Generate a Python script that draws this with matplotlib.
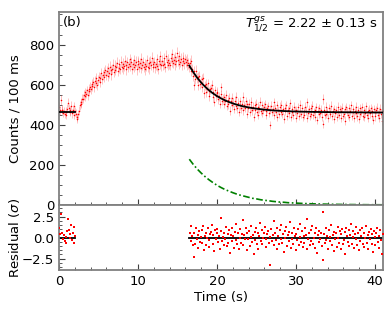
import matplotlib

matplotlib.use("Agg")

import matplotlib.pyplot as plt
import numpy as np
from matplotlib.ticker import AutoMinorLocator

# counts per 100 ms bin, bins start at 0 s (one row = 1 s)
BIN_WIDTH = 0.1
counts = [
    489, 472, 523, 474, 476, 459, 469, 454, 450, 465,
    480, 510, 482, 463, 472, 495, 457, 476, 491, 450,
    467, 455, 428, 438, 452, 470, 497, 512, 505, 528,
    530, 548, 541, 562, 555, 571, 549, 580, 566, 590,
    578, 603, 595, 612, 588, 620, 607, 631, 598, 624,
    640, 615, 633, 658, 629, 647, 662, 638, 671, 650,
    668, 645, 683, 659, 690, 672, 651, 679, 700, 664,
    695, 672, 688, 710, 669, 684, 702, 677, 715, 690,
    681, 705, 692, 720, 698, 676, 711, 689, 703, 728,
    694, 712, 680, 701, 723, 688, 699, 715, 676, 705,
    718, 690, 706, 684, 729, 697, 711, 688, 703, 676,
    695, 722, 688, 709, 681, 714, 698, 735, 690, 705,
    712, 686, 701, 727, 693, 680, 718, 704, 741, 696,
    720, 699, 731, 705, 688, 744, 712, 697, 725, 706,
    698, 733, 716, 752, 709, 724, 701, 738, 717, 760,
    722, 705, 741, 713, 729, 698, 735, 719, 706, 728,
    715, 698, 724, 706, 689, 707, 720, 668, 677, 642,
    600, 666, 630, 670, 632, 639, 597, 642, 605, 615,
    630, 589, 634, 559, 596, 602, 562, 580, 606, 566,
    544, 576, 581, 597, 539, 562, 514, 571, 542, 556,
    565, 528, 542, 505, 551, 586, 519, 529, 504, 537,
    519, 549, 495, 525, 501, 533, 470, 517, 533, 498,
    510, 478, 519, 538, 494, 482, 510, 466, 496, 518,
    481, 502, 539, 472, 497, 485, 516, 455, 501, 485,
    504, 463, 487, 515, 472, 489, 438, 497, 474, 504,
    464, 490, 450, 483, 515, 469, 497, 459, 476, 489,
    503, 470, 450, 483, 491, 460, 475, 401, 494, 463,
    477, 513, 450, 483, 463, 496, 440, 474, 455, 489,
    464, 500, 455, 477, 431, 485, 468, 496, 446, 474,
    481, 457, 507, 440, 477, 464, 449, 490, 470, 434,
    474, 458, 487, 446, 467, 500, 454, 482, 441, 469,
    451, 490, 470, 434, 511, 460, 477, 445, 483, 455,
    494, 448, 464, 438, 474, 487, 425, 470, 453, 481,
    461, 476, 441, 405, 528, 472, 450, 489, 456, 467,
    434, 482, 465, 454, 495, 443, 469, 428, 478, 458,
    473, 438, 490, 462, 449, 479, 432, 471, 484, 445,
    456, 477, 421, 486, 466, 451, 481, 440, 468, 497,
    446, 464, 479, 436, 470, 457, 490, 442, 474, 429,
    481, 453, 466, 487, 444, 472, 438, 461, 492, 449,
    467, 433, 476, 457, 483, 446, 470, 424, 478, 463,
    442, 474, 485, 450, 465, 435, 480, 455, 418, 470,
]

# residuals (sigma) for the two fitted windows
res_early = [1.2, 0.4, 2.8, 0.5, 0.6, -0.2, 0.3, -0.4, -0.6, 0.1,
             0.8, 2.2, 0.9, 0.0, 0.4, 1.5, -0.3, 0.6, 1.3, -0.6, 0.2]
res_late = [
    0.6, 1.35, -0.4, 0.2, -0.9,
    -2.3, 0.5, -0.7, 1.1, -0.2, 0.3, -1.2, 0.8, -0.5, 0.1,
    0.9, -0.6, 1.4, -1.5, 0.2, 0.6, -0.9, 0.0, 1.2, -0.3,
    -1.1, 0.4, 0.7, 1.5, -0.8, 0.3, -1.6, 0.9, -0.2, 0.5,
    1.0, -0.5, 0.2, -1.3, 0.8, 2.4, -0.4, 0.1, -0.9, 0.6,
    -0.1, 1.3, -1.0, 0.4, -0.6, 0.9, -1.8, 0.3, 1.1, -0.4,
    0.2, -1.2, 0.7, 1.6, -0.3, -0.8, 0.5, -1.4, 0.0, 1.0,
    -0.6, 0.4, 2.1, -0.9, 0.3, -0.2, 1.2, -1.5, 0.6, -0.1,
    0.8, -1.0, 0.1, 1.4, -0.5, 0.3, -2.0, 0.7, -0.3, 1.1,
    -0.7, 0.5, -1.3, 0.2, 1.7, -0.4, 0.9, -0.8, 0.0, 0.6,
    1.3, -0.2, -1.1, 0.4, 0.8, -0.6, 0.1, -3.3, 1.0, -0.4,
    0.3, 2.0, -0.9, 0.6, -0.3, 1.2, -1.4, 0.2, -0.7, 0.9,
    -0.2, 1.5, -0.6, 0.4, -1.7, 0.8, 0.0, 1.3, -1.0, 0.3,
    0.7, -0.4, 1.9, -1.2, 0.5, -0.1, -0.8, 1.1, 0.2, -1.5,
    0.4, -0.3, 1.0, -0.9, 0.1, 1.6, -0.5, 0.8, -1.1, 0.2,
    -0.6, 1.2, 0.3, -1.4, 2.2, -0.2, 0.6, -0.9, 0.9, -0.4,
    1.4, -0.7, 0.0, -1.2, 0.5, 1.1, -1.8, 0.3, -0.5, 0.8,
    -0.1, 0.6, -1.0, -2.7, 3.0, 0.4, -0.6, 1.2, -0.3, 0.2,
    -1.3, 0.9, 0.1, -0.4, 1.5, -0.9, 0.3, -1.6, 0.7, -0.2,
    0.5, -1.1, 1.3, 0.0, -0.6, 0.8, -1.4, 0.4, 1.0, -0.8,
    -0.3, 0.7, -1.9, 1.1, 0.2, -0.5, 0.9, -1.0, 0.3, 1.6,
    -0.7, 0.1, 0.8, -1.2, 0.4, -0.2, 1.3, -0.9, 0.6, -1.5,
    0.9, -0.4, 0.2, 1.2, -0.8, 0.5, -1.1, 0.0, 1.4, -0.6,
    0.3, -1.3, 0.7, -0.2, 1.0, -0.7, 0.4, -1.7, 0.8, 0.1,
    -0.9, 0.6, 1.1, -0.5, 0.2, -1.2, 0.9, -0.3, -2.0, 0.4,
]

# fit curves
fit_bg_t = [0.0, 2.1]
fit_bg_y = [463, 463]
fit_t = [16.5, 17.0, 17.5, 18.0, 18.5, 19.0, 19.5, 20.0, 20.5, 21.0, 21.5,
         22.0, 22.5, 23.0, 23.5, 24.0, 24.5, 25.0, 25.5, 26.0, 26.5, 27.0,
         27.5, 28.0, 28.5, 29.0, 29.5, 30.0, 31.0, 32.0, 33.0, 34.0, 35.0,
         36.0, 37.0, 38.0, 39.0, 40.0, 41.0]
fit_y = [695, 662.4, 634.3, 610.2, 589.5, 571.6, 556.3, 543.1, 531.7, 522.0,
         513.6, 506.4, 500.2, 494.8, 490.2, 486.3, 482.9, 480.0, 477.5, 475.3,
         473.4, 471.8, 470.4, 469.3, 468.2, 467.4, 466.6, 466.0, 465.0, 464.2,
         463.5, 463.0, 462.6, 462.3, 462.0, 461.7, 461.4, 461.2, 461.0]
gs_y = [228, 202, 179, 159, 141, 125, 111, 98, 87, 77, 69, 61, 54, 48, 43,
        38, 33, 30, 26, 23, 21, 18, 16, 14, 13, 11, 10, 9, 7, 5.5, 4.3, 3.4,
        2.7, 2.1, 1.7, 1.3, 1.0, 0.8, 0.6]

SPINE = "#808080"


def style_axis(ax):
    for spine in ax.spines.values():
        spine.set_color(SPINE)
        spine.set_linewidth(1.3)
    ax.xaxis.set_minor_locator(AutoMinorLocator())
    ax.yaxis.set_minor_locator(AutoMinorLocator())
    ax.tick_params(which="both", direction="in", colors="#404040", labelcolor="black", labelsize=9.5)
    ax.tick_params(which="major", length=4, width=0.8)
    ax.tick_params(which="minor", length=2, width=0.6)


def main() -> None:
    counts_arr = np.array(counts, dtype=float)
    t = np.arange(len(counts_arr)) * BIN_WIDTH + BIN_WIDTH / 2
    err = np.sqrt(counts_arr)
    t_res_early = t[: len(res_early)]
    t_res_late = t[len(t) - len(res_late):]

    fig = plt.figure(figsize=(3.9, 3.1), dpi=100)
    ax = fig.add_axes([0.151, 0.339, 0.831, 0.622])
    axr = fig.add_axes([0.151, 0.129, 0.831, 0.210], sharex=ax)

    ax.errorbar(t, counts_arr, yerr=err, fmt="o", ms=1.1, mew=0, color="red",
                ecolor=(1, 0.2, 0.2, 0.3), elinewidth=0.7, capsize=0, zorder=2)
    ax.plot(fit_bg_t, fit_bg_y, color="black", lw=1.3, zorder=3)
    ax.plot(fit_t, fit_y, color="black", lw=1.3, zorder=3)
    ax.plot(fit_t, gs_y, color="green", lw=1.2, ls=(0, (4, 1.5, 1, 1.5)), zorder=3)

    ax.set_xlim(0, 41)
    ax.set_ylim(0, 962)
    ax.set_yticks([0, 200, 400, 600, 800])
    ax.set_ylabel("Counts / 100 ms", fontsize=9.5)
    ax.yaxis.set_label_coords(-0.115, 0.5)
    ax.tick_params(labelbottom=False)
    ax.text(0.012, 0.945, "(b)", transform=ax.transAxes, fontsize=9.5, va="center", ha="left")
    ax.text(0.985, 0.94, r"$T^{gs}_{1/2}$ = 2.22 $\pm$ 0.13 s", transform=ax.transAxes,
            fontsize=9.5, va="center", ha="right")
    style_axis(ax)

    axr.plot(t_res_early, res_early, "s", ms=1.6, mew=0, color="red", zorder=3)
    axr.plot(t_res_late, res_late, "s", ms=1.6, mew=0, color="red", zorder=3)
    axr.plot([0.0, 2.1], [0, 0], color="black", lw=1.3, zorder=2)
    axr.plot([16.5, 41.0], [0, 0], color="black", lw=1.3, zorder=2)
    axr.set_ylim(-3.85, 3.9)
    axr.set_yticks([-2.5, 0.0, 2.5])
    axr.set_ylabel(r"Residual ($\sigma$)", fontsize=9.5)
    axr.yaxis.set_label_coords(-0.115, 0.5)
    axr.set_xlabel("Time (s)", fontsize=9.5, labelpad=2)
    axr.set_xticks([0, 10, 20, 30, 40])
    style_axis(axr)

    fig.savefig("out.png", dpi=100)
    plt.close(fig)


if __name__ == "__main__":
    main()
